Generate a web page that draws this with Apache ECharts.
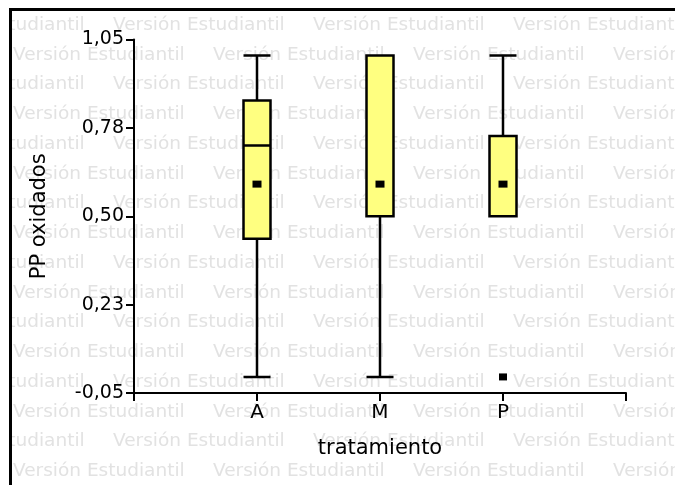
<!DOCTYPE html>
<html>
<head>
<meta charset="utf-8">
<script src="https://cdn.jsdelivr.net/npm/echarts@6/dist/echarts.min.js"></script>
<style>
html,body{margin:0;padding:0;background:#fff;}
#chart{width:675px;height:485px;}
</style>
</head>
<body>
<div id="chart"></div>
<script>
// ---- data ----
const categories = ['', 'A', 'M', 'P', ''];
const boxNames = ['A', 'M', 'P'];
const boxMin = [0.0, 0.0, 0.5];
const boxQ1 = [0.43, 0.5, 0.5];
const boxMedian = [0.72, 0.5, 0.5];
const boxQ3 = [0.86, 1.0, 0.75];
const boxMax = [1.0, 1.0, 1.0];
const meanValues = [0.6, 0.6, 0.6];
const outlierNames = ['P'];
const outlierValues = [0.0];
const yTickValues = [-0.05, 0.225, 0.5, 0.775, 1.05];
const yTickLabels = ['-0,05', '0,23', '0,50', '0,78', '1,05'];
const watermarkText = 'Versión Estudiantil';

// ---- chart ----
const chart = echarts.init(document.getElementById('chart'), null, {renderer: 'canvas'});

const boxData = boxNames.map((n, i) => [n, boxMin[i], boxQ1[i], boxMedian[i], boxQ3[i], boxMax[i]]);
const meanData = boxNames.map((n, i) => [n, meanValues[i]]);
const outlierData = outlierNames.map((n, i) => [n, outlierValues[i]]);

// watermark decoration
const graphics = [];
for (let r = 0; r < 17; r++) {
  const y = 25 + 29.75 * r;
  const start = (r % 2 === 0 ? 113 : 13) - 200;
  for (let x = start; x < 675; x += 200) {
    graphics.push({
      type: 'text', x: x, y: y, z: -10, silent: true,
      style: {text: watermarkText, fill: '#e2e2e2', font: '18.5px "DejaVu Sans"', textVerticalAlign: 'middle', textAlign: 'left'}
    });
  }
}
// masks outside frame
graphics.push({type: 'rect', z: -5, silent: true, shape: {x: 0, y: 0, width: 9, height: 485}, style: {fill: '#fff'}});
graphics.push({type: 'rect', z: -5, silent: true, shape: {x: 0, y: 0, width: 675, height: 8}, style: {fill: '#fff'}});
// frame
graphics.push({type: 'line', z: 100, silent: true, shape: {x1: 10.5, y1: 8, x2: 10.5, y2: 485}, style: {stroke: '#000', lineWidth: 3}});
graphics.push({type: 'line', z: 100, silent: true, shape: {x1: 9, y1: 9.5, x2: 675, y2: 9.5}, style: {stroke: '#000', lineWidth: 3}});

const font = '"DejaVu Sans", sans-serif';

chart.setOption({
  animation: false,
  backgroundColor: '#fff',
  graphic: graphics,
  grid: {left: 134, right: 49, top: 39.5, bottom: 92},
  xAxis: {
    type: 'category',
    data: categories,
    boundaryGap: false,
    name: 'tratamiento',
    nameLocation: 'middle',
    nameGap: 45,
    nameTextStyle: {color: '#000', fontSize: 21, fontFamily: font},
    axisLine: {show: true, onZero: false, lineStyle: {color: '#000', width: 2}},
    axisTick: {show: true, length: 8, interval: 0, lineStyle: {color: '#000', width: 2}},
    axisLabel: {interval: 0, color: '#000', fontSize: 20, fontFamily: font, margin: 10},
    splitLine: {show: false}
  },
  yAxis: {
    type: 'value',
    min: -0.05,
    max: 1.05,
    name: 'PP oxidados',
    nameLocation: 'middle',
    nameGap: 84,
    nameRotate: 90,
    nameTextStyle: {color: '#000', fontSize: 21, fontFamily: font},
    axisLine: {show: true, onZero: false, lineStyle: {color: '#000', width: 2}},
    axisTick: {show: true, length: 8, customValues: yTickValues, lineStyle: {color: '#000', width: 2}},
    axisLabel: {
      customValues: yTickValues,
      color: '#000', fontSize: 19, fontFamily: font, margin: 10,
      formatter: function (v) {
        for (let j = 0; j < yTickValues.length; j++) {
          if (Math.abs(yTickValues[j] - v) < 1e-6) return yTickLabels[j];
        }
        return '';
      }
    },
    splitLine: {show: false}
  },
  series: [
    {
      type: 'boxplot',
      data: boxData,
      encode: {x: 0, y: [1, 2, 3, 4, 5]},
      boxWidth: [27, 27],
      itemStyle: {color: '#ffff80', borderColor: '#000', borderWidth: 2.5},
      emphasis: {disabled: true},
      z: 2
    },
    {
      type: 'scatter',
      data: meanData,
      symbol: 'rect',
      symbolSize: [9, 7],
      itemStyle: {color: '#000', opacity: 1},
      emphasis: {disabled: true},
      z: 5
    },
    {
      type: 'scatter',
      data: outlierData,
      symbol: 'rect',
      symbolSize: [8, 7],
      itemStyle: {color: '#000', opacity: 1},
      emphasis: {disabled: true},
      z: 5
    }
  ]
});
</script>
</body>
</html>
